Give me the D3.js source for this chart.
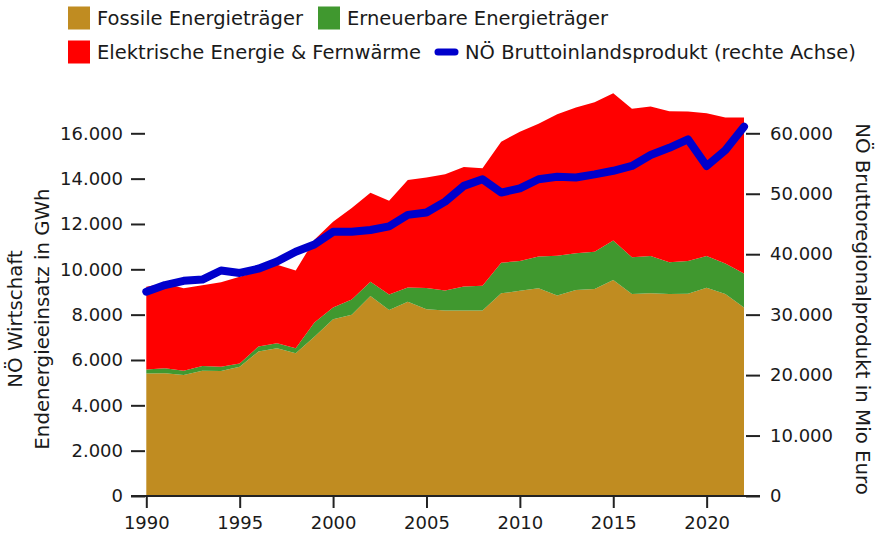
<!DOCTYPE html>
<html><head><meta charset="utf-8">
<script src="https://cdn.jsdelivr.net/npm/d3@7"></script>
<style>
body{margin:0;background:#fff;}
svg text{font-family:"DejaVu Sans",sans-serif;fill:#1a1a1a;}
</style></head>
<body><svg id="c" width="876" height="535"></svg>
<script>
const years = d3.range(1990, 2023);
const fossil = [5400,5420,5340,5530,5515,5700,6370,6520,6300,7030,7800,8000,8820,8200,8570,8240,8180,8180,8180,8940,9050,9160,8840,9090,9130,9530,8910,8940,8910,8920,9190,8910,8310];
const renewable = [180,220,190,200,190,150,220,220,220,620,510,670,630,690,630,940,880,1060,1100,1350,1320,1410,1760,1620,1650,1740,1620,1650,1400,1450,1400,1350,1510];
const electric = [3650,3750,3630,3570,3720,3820,3310,3460,3430,3650,3790,4030,3930,4130,4740,4870,5130,5270,5180,5340,5700,5850,6240,6430,6590,6500,6550,6590,6660,6590,6290,6440,6880];
const gdp = [33800,34900,35600,35800,37300,36900,37600,38800,40400,41600,43700,43700,44000,44600,46500,46900,48700,51300,52400,50200,50900,52400,52800,52700,53200,53800,54600,56400,57600,59000,54600,57200,61100];
const leftTicks = [0,2000,4000,6000,8000,10000,12000,14000,16000];
const rightTicks = [0,10000,20000,30000,40000,50000,60000];
const xTicks = [1990,1995,2000,2005,2010,2015,2020];
const seriesNames = ["Fossile Energieträger","Erneuerbare Energieträger","Elektrische Energie & Fernwärme"];
const lineName = "NÖ Bruttoinlandsprodukt (rechte Achse)";
const colors = ["#c08c21","#40982f","#ff0000"];
const lineColor = "#0000cc";
const FONT = "'DejaVu Sans', sans-serif";

const svg = d3.select("#c");
const loc = d3.formatLocale({decimal:",",thousands:".",grouping:[3],currency:["","€"]});
const fmt = loc.format(",d");

const x = d3.scaleLinear().domain([1990,2022]).range([146.3,744]);
const yL = d3.scaleLinear().domain([0,16000]).range([496,133.3]);
const yR = d3.scaleLinear().domain([0,60000]).range([496,133.3]);

const rows = years.map((y,i)=>({year:y,f:fossil[i],r:renewable[i],e:electric[i]}));
const stack = d3.stack().keys(["f","r","e"])(rows);
const area = d3.area().x(d=>x(d.data.year)).y0(d=>yL(d[0])).y1(d=>yL(d[1]));
svg.append("g").selectAll("path").data(stack).join("path")
  .attr("d",area).attr("fill",(d,i)=>colors[i]);

// axes
const gl = svg.append("g").attr("transform","translate(145,0)")
  .call(d3.axisLeft(yL).tickValues(leftTicks).tickSize(14).tickPadding(8).tickFormat(fmt));
const gr = svg.append("g").attr("transform","translate(746,0)")
  .call(d3.axisRight(yR).tickValues(rightTicks).tickSize(14).tickPadding(10).tickFormat(fmt));
const gx = svg.append("g").attr("transform","translate(0,496)")
  .call(d3.axisBottom(x).tickValues(xTicks).tickSize(12).tickPadding(8).tickFormat(d3.format("d")));
[gl,gr,gx].forEach(g=>{
  g.select(".domain").remove();
  g.selectAll(".tick line").attr("stroke","#222").attr("stroke-width",2);
  g.selectAll(".tick text").attr("font-size",18).attr("fill","#1a1a1a").style("font-family",FONT);
});
svg.append("line").attr("x1",131).attr("x2",760).attr("y1",496).attr("y2",496)
  .attr("stroke","#222").attr("stroke-width",2);

// GDP line
const line = d3.line().x((d,i)=>x(years[i])).y(d=>yR(d));
svg.append("path").datum(gdp).attr("d",line).attr("fill","none")
  .attr("stroke",lineColor).attr("stroke-width",8).attr("stroke-linejoin","round").attr("stroke-linecap","round");

// axis titles
svg.append("text").attr("transform","translate(22,319) rotate(-90)").attr("text-anchor","middle")
  .attr("font-size",19.8).text("NÖ Wirtschaft");
svg.append("text").attr("transform","translate(49,319) rotate(-90)").attr("text-anchor","middle")
  .attr("font-size",19.8).text("Endenergieeinsatz in GWh");
svg.append("text").attr("transform","translate(856,309) rotate(90)").attr("text-anchor","middle")
  .attr("font-size",19.8).text("NÖ Bruttoregionalprodukt in Mio Euro");

// legend
const leg = svg.append("g");
const items = [
  {t:seriesNames[0],c:colors[0],x:68,y:18,type:"rect"},
  {t:seriesNames[1],c:colors[1],x:318,y:18,type:"rect"},
  {t:seriesNames[2],c:colors[2],x:68,y:52,type:"rect"},
  {t:lineName,c:lineColor,x:434,y:52,type:"line"}
];
items.forEach(it=>{
  if(it.type==="rect"){
    leg.append("rect").attr("x",it.x).attr("y",it.y-11.5).attr("width",22).attr("height",23).attr("fill",it.c);
    leg.append("text").attr("x",it.x+29).attr("y",it.y).attr("dy","0.35em").attr("font-size",19.5).text(it.t);
  } else {
    leg.append("line").attr("x1",it.x+4).attr("x2",it.x+21).attr("y1",it.y).attr("y2",it.y)
      .attr("stroke",it.c).attr("stroke-width",7).attr("stroke-linecap","round");
    leg.append("text").attr("x",it.x+31).attr("y",it.y).attr("dy","0.35em").attr("font-size",19.5).text(it.t);
  }
});
</script></body></html>
